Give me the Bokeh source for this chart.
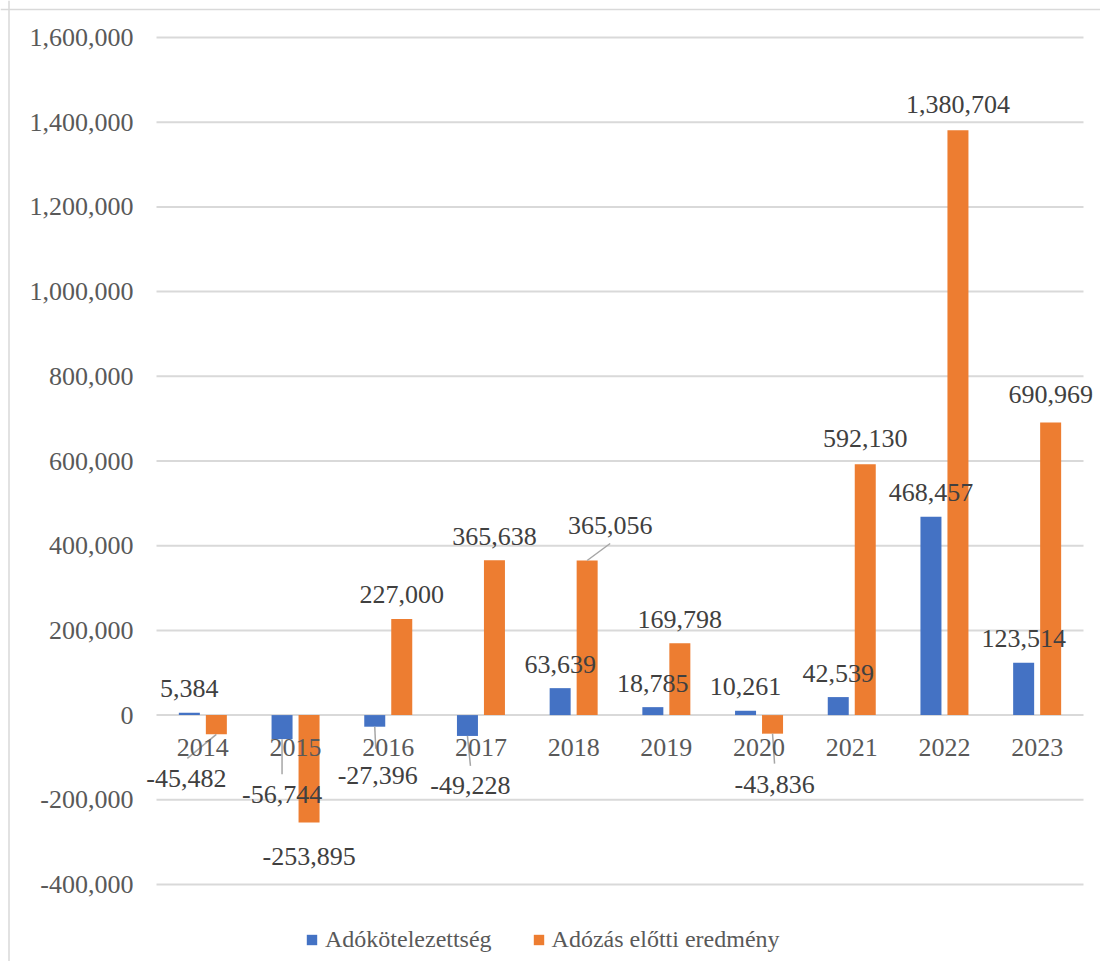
import numpy as np
from bokeh.plotting import figure
from bokeh.models import (Range1d, FixedTicker, NumeralTickFormatter, Legend,
                          LegendItem, ColumnDataSource, Span)
from bokeh.core.properties import value
from bokeh.embed import file_html
from bokeh.resources import INLINE

# ---------------- data ----------------
years = ["2014", "2015", "2016", "2017", "2018", "2019", "2020", "2021", "2022", "2023"]
adokotelezettseg = [5384, -56744, -27396, -49228, 63639, 18785, 10261, 42539, 468457, 123514]
adozas_elotti = [-45482, -253895, 227000, 365638, 365056, 169798, -43836, 592130, 1380704, 690969]
series_names = ["Adókötelezettség", "Adózás előtti eredmény"]
y_ticks = [-400000, -200000, 0, 200000, 400000, 600000, 800000, 1000000,
           1200000, 1400000, 1600000]

# ---------------- styling / layout (pixels) ----------------
FONT = "Liberation Serif"
BLUE, ORANGE = "#4472C4", "#ED7D31"
GRID = "#d9d9d9"
W, H = 1100, 961
PL, PT, PW, PH = 156, 37, 927, 847      # plot area holding the ticks
PX_PER_CAT = PW / len(years)
PX_PER_UNIT = PH / (y_ticks[-1] - y_ticks[0])
BAR_W = 21 / PX_PER_CAT
DODGE = 13.5 / PX_PER_CAT

# data-label pixel offsets (dx, dy; dy positive = downwards)
blue_label_off = [(0, -24), (0, 55), (3, 49), (3, 50), (0, -24), (0, -24),
                  (0, -24), (0, -24), (0, -24), (0, -24)]
orange_label_off = [(-30, 44), (0, 34), (0, -24), (0, -24), (23, -35), (0, -24),
                    (2, 51), (0, -26), (0, -26), (0, -28)]
# leader lines: (series, index, end dx, end dy) from the bar end
leaders = [(0, 1, 0, 35), (0, 2, 1, 22), (0, 3, 3, 30),
           (1, 0, -29, 24), (1, 4, 23, -17), (1, 6, 2, 30)]

# the frame covers the whole canvas, so nothing gets clipped
x_start = -PL / PX_PER_CAT
x_end = len(years) + (W - PL - PW) / PX_PER_CAT
y_end = y_ticks[-1] + PT / PX_PER_UNIT
y_start = y_ticks[0] - (H - PT - PH) / PX_PER_UNIT

p = figure(width=W, height=H, title=None,
           x_range=Range1d(x_start, x_end), y_range=Range1d(y_start, y_end),
           min_border=0, min_border_left=0, min_border_right=0,
           min_border_top=0, min_border_bottom=0,
           output_backend="svg", toolbar_location=None)
p.outline_line_color = None
p.background_fill_color = "white"
p.border_fill_color = "white"
p.xgrid.grid_line_color = None
p.ygrid.grid_line_color = None

# chart-area border (left and top edges)
p.add_layout(Span(location=8.5, location_units="screen", dimension="height",
                  line_color=GRID, line_width=1.5))
p.add_layout(Span(location=H - 9, location_units="screen", dimension="width",
                  line_color=GRID, line_width=1.5))

# horizontal gridlines spanning the category area
p.segment(x0=[0] * len(y_ticks), x1=[len(years)] * len(y_ticks),
          y0=y_ticks, y1=y_ticks, line_color=GRID, line_width=2)

centers = np.arange(len(years)) + 0.5
xb = centers - DODGE
xo = centers + DODGE

r_blue = p.vbar(x=xb, top=adokotelezettseg, bottom=0, width=BAR_W,
                fill_color=BLUE, line_color=None)
r_orange = p.vbar(x=xo, top=adozas_elotti, bottom=0, width=BAR_W,
                  fill_color=ORANGE, line_color=None)

# axes
p.xaxis.ticker = FixedTicker(ticks=list(centers))
p.xaxis.major_label_overrides = {float(c): y for c, y in zip(centers, years)}
p.xaxis.fixed_location = 0
p.xaxis.axis_line_color = None
p.xaxis.major_tick_line_color = None
p.xaxis.minor_tick_line_color = None
p.xaxis.major_tick_out = 0
p.xaxis.major_tick_in = 0
p.xaxis.major_label_standoff = 24
p.xaxis.major_label_text_font = FONT
p.xaxis.major_label_text_font_size = "26px"
p.xaxis.major_label_text_color = "#595959"

p.yaxis.ticker = FixedTicker(ticks=y_ticks)
p.yaxis.formatter = NumeralTickFormatter(format="0,0")
p.yaxis.fixed_location = 0
p.yaxis.axis_line_color = None
p.yaxis.major_tick_line_color = None
p.yaxis.minor_tick_line_color = None
p.yaxis.major_tick_out = 0
p.yaxis.major_tick_in = 0
p.yaxis.major_label_standoff = 23
p.yaxis.major_label_text_font = FONT
p.yaxis.major_label_text_font_size = "26px"
p.yaxis.major_label_text_color = "#595959"

# leader lines
lx0, ly0, lx1, ly1 = [], [], [], []
for s, i, dx, dy in leaders:
    vals = adokotelezettseg if s == 0 else adozas_elotti
    bx = (xb if s == 0 else xo)[i]
    lx0.append(bx)
    ly0.append(vals[i])
    lx1.append(bx + dx / PX_PER_CAT)
    ly1.append(vals[i] - dy / PX_PER_UNIT)
p.segment(x0=lx0, y0=ly0, x1=lx1, y1=ly1, line_color="#a6a6a6", line_width=1.5)

# data labels
for xs, vals, offs in [(xb, adokotelezettseg, blue_label_off),
                       (xo, adozas_elotti, orange_label_off)]:
    src = ColumnDataSource(dict(
        x=list(xs), y=vals, t=[f"{v:,}" for v in vals],
        dx=[o[0] for o in offs], dy=[o[1] for o in offs]))
    p.text(x="x", y="y", text="t", x_offset="dx", y_offset="dy", source=src,
           text_font=value(FONT), text_font_size="26px", text_color="#404040",
           text_align="center", text_baseline="middle")

legend = Legend(items=[LegendItem(label=series_names[0], renderers=[r_blue]),
                       LegendItem(label=series_names[1], renderers=[r_orange])],
                location=(305, 8), orientation="horizontal",
                glyph_width=13, glyph_height=13, label_standoff=7, spacing=40,
                padding=0, margin=0, border_line_color=None,
                background_fill_alpha=0,
                label_text_font=FONT, label_text_font_size="24px",
                label_text_color="#595959")
p.add_layout(legend)

open("out.html", "w").write(file_html(p, INLINE))
